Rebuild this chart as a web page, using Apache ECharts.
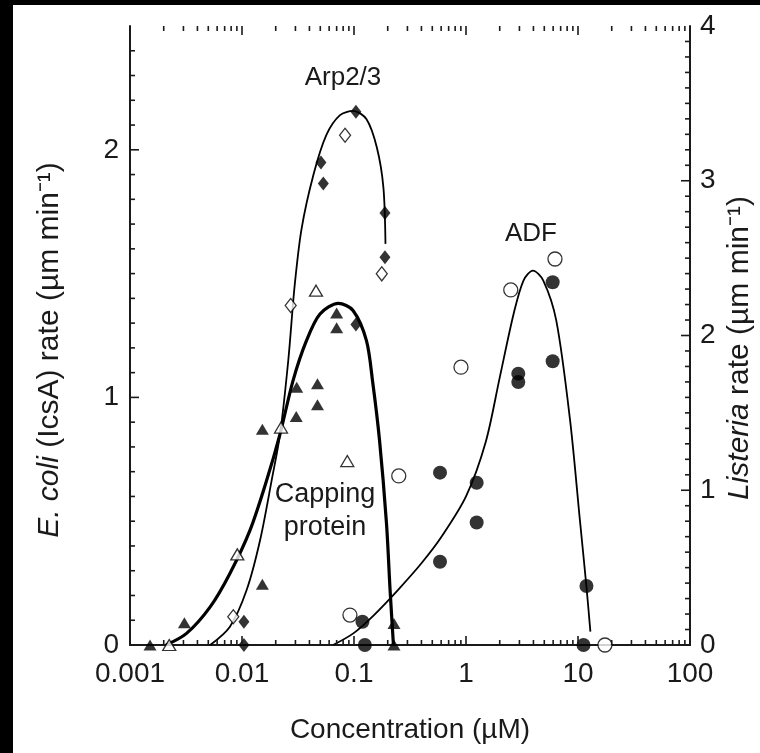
<!DOCTYPE html>
<html>
<head>
<meta charset="utf-8">
<script src="https://cdn.jsdelivr.net/npm/echarts@6/dist/echarts.min.js"></script>
<style>
  html, body { margin: 0; padding: 0; background: #fff; }
  #chart { width: 760px; height: 753px; }
</style>
</head>
<body>
<div id="chart"></div>
<script>
  // tick labels
  var xTickLabels = ['0.001', '0.01', '0.1', '1', '10', '100']
  var leftTickLabels = ['0', '1', '2']
  var rightTickLabels = ['0', '1', '2', '3', '4']

  // Arp2/3 (diamonds)
  var arpFilled = [[0.104, 2.154], [0.0507, 1.949], [0.0532, 1.864], [0.189, 1.745], [0.189, 1.566],
    [0.104, 1.294], [0.0104, 0.094], [0.0104, 0]]
  var arpOpen = [[0.0832, 2.059], [0.177, 1.499], [0.0272, 1.371], [0.00836, 0.114]]
  var arpCurve = [[0.0052, 0], [0.0078, 0.074], [0.011, 0.222], [0.0145, 0.423], [0.0184, 0.665],
    [0.0219, 0.854], [0.0259, 1.15], [0.0295, 1.45], [0.034, 1.68], [0.0435, 1.9], [0.0567, 2.06],
    [0.075, 2.14], [0.0986, 2.157], [0.129, 2.124], [0.16, 2.009], [0.183, 1.848], [0.191, 1.62]]

  // capping protein (triangles)
  var capFilled = [[0.07, 1.341], [0.07, 1.281], [0.0308, 1.041], [0.0472, 1.055], [0.0472, 0.97],
    [0.0305, 0.923], [0.0152, 0.871], [0.0152, 0.245], [0.00306, 0.09], [0.00151, 0],
    [0.2275, 0.087], [0.2275, 0]]
  var capOpen = [[0.0458, 1.431], [0.0223, 0.878], [0.0871, 0.743], [0.00908, 0.366], [0.00224, 0]]
  var capCurve = [[0.0021, 0], [0.0032, 0.047], [0.0052, 0.154], [0.0078, 0.289], [0.0118, 0.464],
    [0.0166, 0.665], [0.0219, 0.854], [0.0286, 1.069], [0.0377, 1.23], [0.0497, 1.337], [0.0725, 1.38],
    [0.098, 1.351], [0.129, 1.23], [0.147, 1.06], [0.169, 0.827], [0.195, 0.491], [0.21, 0.222], [0.225, 0]]

  // ADF (circles)
  var adfFilled = [[5.94, 1.465], [5.94, 1.146], [2.93, 1.096], [2.93, 1.062], [0.586, 0.696],
    [1.245, 0.655], [1.245, 0.495], [0.586, 0.336], [11.9, 0.238], [11.2, 0], [0.119, 0.094], [0.125, 0]]
  var adfOpen = [[6.23, 1.559], [2.51, 1.434], [0.902, 1.122], [0.251, 0.683], [0.092, 0.121], [17.4, 0]]
  var adfCurve = [[0.065, 0], [0.0986, 0.047], [0.15, 0.12], [0.25, 0.225], [0.4, 0.33],
    [0.6, 0.435], [1.0, 0.6], [1.5, 0.82], [2.0, 1.08], [2.66, 1.337], [3.26, 1.472],
    [3.96, 1.512], [4.9, 1.472], [6.4, 1.31], [8.5, 0.907], [10.4, 0.504], [11.9, 0.235], [12.9, 0.054]]

  // tick marks: [value, length]
  var xTicks = []
  for (var d = -3; d <= 2; d++) {
    xTicks.push([Number(Math.pow(10, d).toPrecision(3)), 9])
    if (d === 2) break
    for (var k = 2; k < 10; k++) {
      xTicks.push([Number((k * Math.pow(10, d)).toPrecision(3)), 5])
    }
  }
  var leftTicks = []
  for (var i = 1; i < 25; i++) leftTicks.push([i / 10, i % 10 === 0 ? 9 : 5])
  var rightTicks = []
  for (var j = 1; j < 40; j++) rightTicks.push([j / 10, j % 10 === 0 ? 9 : 5])

  var font = 'Liberation Sans, Arial, sans-serif'
  var ink = '#1a1a1a'
  var fs = 28

  var myChart = echarts.init(document.getElementById('chart'))

  function scatter (name, data, symbol, size, filled) {
    return {
      name: name,
      type: 'scatter',
      data: data,
      symbol: symbol,
      symbolSize: size,
      clip: false,
      z: 5,
      itemStyle: filled ? { color: '#000' } : { color: '#fff', borderColor: '#000', borderWidth: 1.3 }
    }
  }

  function curve (name, data, width) {
    return {
      name: name,
      type: 'line',
      data: data,
      showSymbol: false,
      smooth: 0.3,
      clip: false,
      z: 3,
      lineStyle: { color: '#000', width: width }
    }
  }

  function tickLabel (labels, margin) {
    return {
      interval: 0,
      margin: margin,
      fontFamily: font,
      fontSize: fs,
      color: ink,
      formatter: function (v) {
        var i = labels.indexOf(String(v))
        return i >= 0 ? labels[i] : ''
      }
    }
  }

  var option = {
    backgroundColor: '#fff',
    animation: false,
    grid: { left: 130, right: 70, top: 26, bottom: 108 },
    xAxis: [{
      type: 'log',
      logBase: 10,
      min: 0.001,
      max: 100,
      interval: 1,
      position: 'bottom',
      axisLine: { lineStyle: { color: ink, width: 2 } },
      axisTick: { show: false },
      splitLine: { show: false },
      axisLabel: {
        margin: 15,
        fontFamily: font,
        fontSize: fs,
        color: ink,
        formatter: function (v, i) { return xTickLabels[i] }
      }
    }, {
      type: 'log',
      logBase: 10,
      min: 0.001,
      max: 100,
      interval: 1,
      position: 'top',
      axisLine: { lineStyle: { color: ink, width: 2 } },
      axisTick: { show: false },
      splitLine: { show: false },
      axisLabel: { show: false }
    }],
    yAxis: [{
      type: 'value',
      min: 0,
      max: 2.5,
      interval: 0.5,
      position: 'left',
      axisLine: { show: true, lineStyle: { color: ink, width: 2 } },
      axisTick: { show: false },
      splitLine: { show: false },
      axisLabel: tickLabel(leftTickLabels, 11)
    }, {
      type: 'value',
      min: 0,
      max: 4,
      interval: 1,
      position: 'right',
      axisLine: { show: true, lineStyle: { color: ink, width: 2 } },
      axisTick: { show: false },
      splitLine: { show: false },
      axisLabel: tickLabel(rightTickLabels, 10)
    }],
    series: [
      curve('Arp2/3 fit', arpCurve, 1.8),
      curve('Capping protein fit', capCurve, 3.2),
      curve('ADF fit', adfCurve, 1.8),
      scatter('Arp2/3 filled', arpFilled, 'diamond', [11, 14], true),
      scatter('Arp2/3 open', arpOpen, 'diamond', [11, 14], false),
      scatter('Capping filled', capFilled, 'triangle', [13, 11], true),
      scatter('Capping open', capOpen, 'triangle', [13, 11], false),
      scatter('ADF filled', adfFilled, 'circle', 14, true),
      scatter('ADF open', adfOpen, 'circle', 14, false)
    ],
    graphic: [
      { type: 'rect', left: 0, top: 0, shape: { width: 13, height: 753 }, style: { fill: '#000' } },
      { type: 'rect', left: 0, top: 0, shape: { width: 760, height: 5 }, style: { fill: '#000' } },
      {
        type: 'text', x: 343, y: 78,
        style: { text: 'Arp2/3', font: '26px ' + font, fill: ink, align: 'center', verticalAlign: 'middle' }
      },
      {
        type: 'text', x: 531, y: 234,
        style: { text: 'ADF', font: '26px ' + font, fill: ink, align: 'center', verticalAlign: 'middle' }
      },
      {
        type: 'text', x: 325, y: 511,
        style: { text: 'Capping\nprotein', font: '27px ' + font, lineHeight: 33, fill: ink, align: 'center', verticalAlign: 'middle', backgroundColor: '#fff' }
      },
      {
        type: 'text', x: 410, y: 730,
        style: { text: 'Concentration (\u00b5M)', font: fs + 'px ' + font, fill: ink, align: 'center', verticalAlign: 'middle' }
      },
      {
        type: 'text', x: 50, y: 350, rotation: Math.PI / 2,
        style: {
          text: '{i|E. coli} (IcsA) rate (\u00b5m min\u207b\u00b9)',
          font: '30px ' + font, fill: ink, align: 'center', verticalAlign: 'middle',
          rich: { i: { fontStyle: 'italic', fontSize: 30, fontFamily: font, fill: ink } }
        }
      },
      {
        type: 'text', x: 740, y: 348, rotation: Math.PI / 2,
        style: {
          text: '{i|Listeria} rate (\u00b5m min\u207b\u00b9)',
          font: '30px ' + font, fill: ink, align: 'center', verticalAlign: 'middle',
          rich: { i: { fontStyle: 'italic', fontSize: 30, fontFamily: font, fill: ink } }
        }
      }
    ]
  }
  myChart.setOption(option)

  // tick marks placed through the chart's own axes
  var ticks = []
  function tick (x1, y1, x2, y2) {
    ticks.push({
      type: 'line', z: 100, silent: true,
      shape: { x1: x1, y1: y1, x2: x2, y2: y2 },
      style: { stroke: ink, lineWidth: 1.6 }
    })
  }
  xTicks.forEach(function (t) {
    var b = myChart.convertToPixel({ xAxisIndex: 0, yAxisIndex: 0 }, [t[0], 0])
    var top = myChart.convertToPixel({ xAxisIndex: 0, yAxisIndex: 0 }, [t[0], 2.5])
    tick(b[0], b[1], b[0], b[1] - t[1])
    tick(top[0], top[1], top[0], top[1] + t[1])
  })
  leftTicks.forEach(function (t) {
    var p = myChart.convertToPixel({ xAxisIndex: 0, yAxisIndex: 0 }, [0.001, t[0]])
    tick(p[0], p[1], p[0] + t[1], p[1])
  })
  rightTicks.forEach(function (t) {
    var p = myChart.convertToPixel({ xAxisIndex: 0, yAxisIndex: 1 }, [100, t[0]])
    tick(p[0], p[1], p[0] - t[1], p[1])
  })
  myChart.setOption({ graphic: option.graphic.concat(ticks) })
</script>
</body>
</html>
